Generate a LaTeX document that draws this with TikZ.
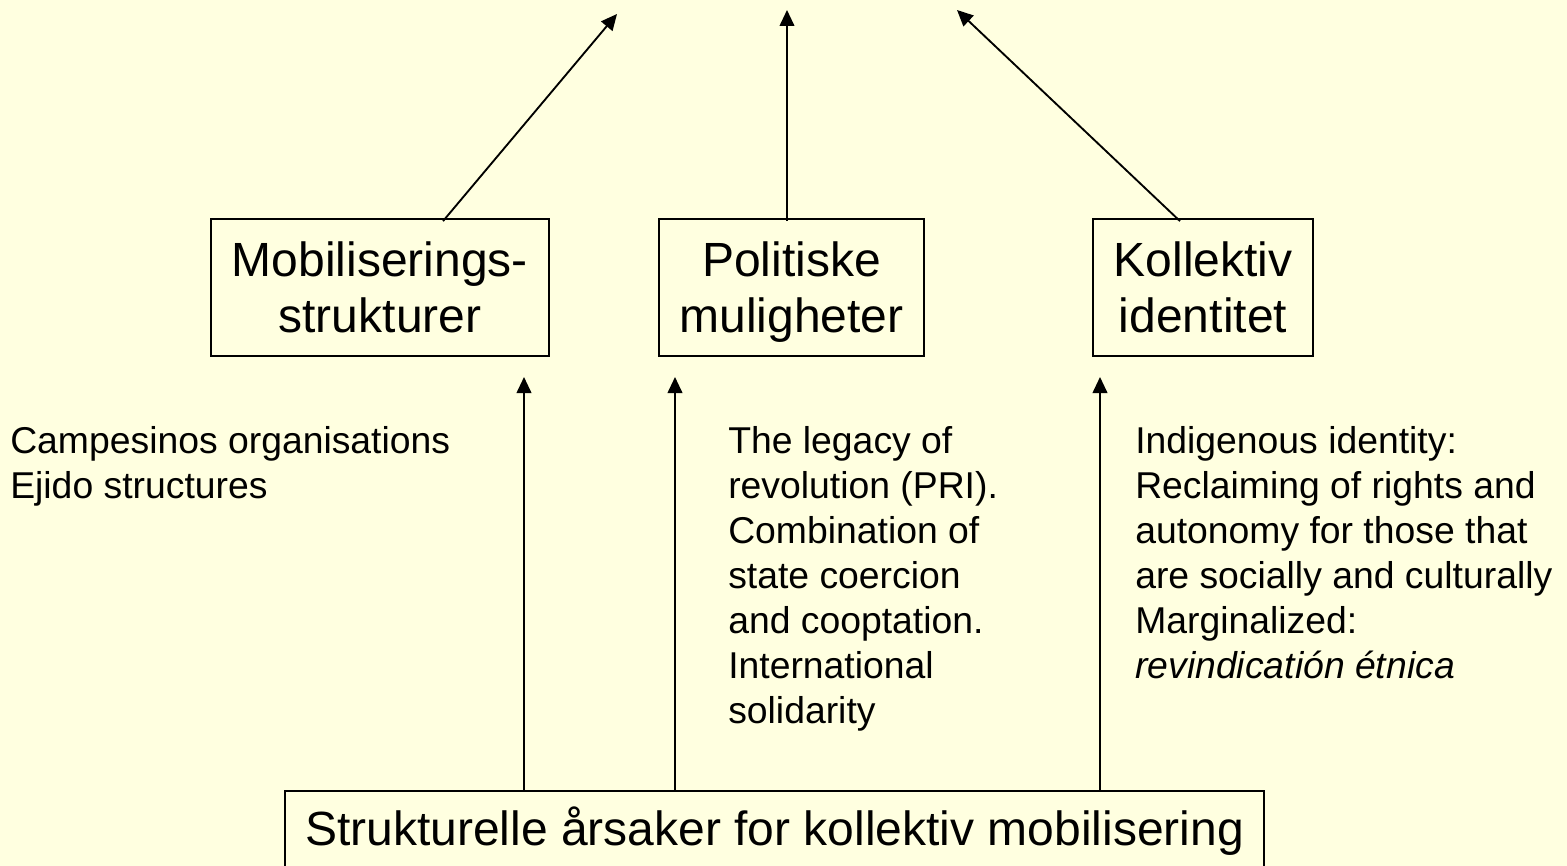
\documentclass[tikz,border=0pt]{standalone}
\usepackage{fontspec}
\setmainfont{Liberation Sans}
\usetikzlibrary{arrows.meta,calc}
\definecolor{bg}{RGB}{255,255,224}
\begin{document}
\begin{tikzpicture}[x=0.75pt,y=-0.75pt,
  box/.style={draw,line width=1.3pt,align=center,font=\fontsize{36}{42}\selectfont,inner sep=0pt},
  txt/.style={align=left,inner sep=0pt,anchor=base west,font=\fontsize{28}{33.75}\selectfont},
  arr/.style={line width=1.4pt,-{Triangle[length=12pt,width=11pt]}}]
\fill[bg] (0,0) rectangle (1567,866);
\useasboundingbox (0,0) rectangle (1567,866);
\begin{scope}
\clip (0,0) rectangle (1567,866);
\node[box,minimum width=338*0.75pt,minimum height=137*0.75pt] (mob) at (380,287.5) {Mobiliserings-\\strukturer};
\node[box,minimum width=265*0.75pt,minimum height=137*0.75pt] (pol) at (791.5,287.5) {Politiske\\\raisebox{0pt}[\height][0pt]{muligheter}};
\node[box,minimum width=220*0.75pt,minimum height=137*0.75pt] (kol) at (1203,287.5) {Kollektiv\\identitet};
\node[box,minimum width=979*0.75pt,minimum height=80*0.75pt] (bot) at (774.5,831) {Strukturelle årsaker for kollektiv mobilisering};
\end{scope}
\coordinate (t1) at (617,14);
\coordinate (t2) at (787,10);
\coordinate (t3) at (957,10);
\coordinate (a1) at (524,377);
\coordinate (a2) at (675,377);
\coordinate (a3) at (1100,377);
\draw[arr] ($(mob.north)+(63,3)$) -- (t1);
\draw[arr] ($(pol.north)+(-4.5,3)$) -- (t2);
\draw[arr] ($(kol.north)+(-23,3)$) -- (t3);
\draw[arr] (bot.north -| a1) -- (a1);
\draw[arr] (bot.north -| a2) -- (a2);
\draw[arr] (bot.north -| a3) -- (a3);
\node[txt] (ta) at (10,498) {Campesinos organisations\\Ejido structures};
\node[txt] (tb) at (728,723) {The legacy of\\revolution (PRI).\\Combination of\\state coercion\\and cooptation.\\International\\solidarity};
\node[txt] (tc) at (1135,678) {Indigenous identity:\\Reclaiming of rights and\\autonomy for those that\\are socially and culturally\\Marginalized:\\\textit{revindicatión étnica}};
\end{tikzpicture}
\end{document}
